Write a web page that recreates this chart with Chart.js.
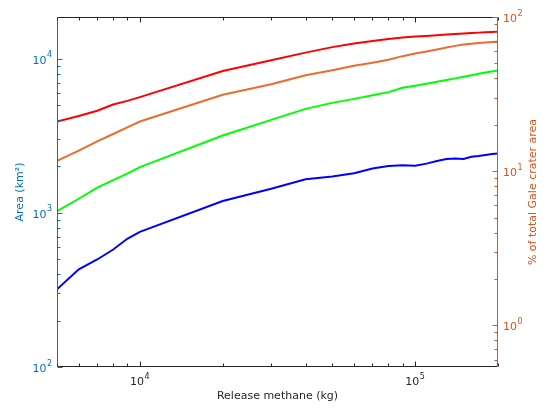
<!DOCTYPE html>
<html>
<head>
<meta charset="utf-8">
<script src="https://cdn.jsdelivr.net/npm/chart.js@4"></script>
<style>
  html, body { margin: 0; padding: 0; background: #fff; }
</style>
</head>
<body>
<canvas id="chart" width="549" height="408"></canvas>
<script>
// release mass (kg) and affected area (km^2) for four cases
const masses = [5000, 6000, 7000, 8000, 9000, 10000, 20000, 30000, 40000, 50000, 60000, 70000,
  80000, 90000, 100000, 110000, 120000, 130000, 140000, 150000, 160000, 170000, 180000, 190000, 200000];
const redArea = [3910, 4250, 4590, 5040, 5320, 5630, 8320, 9770, 10940, 11880, 12530, 13000,
  13400, 13700, 13900, 14050, 14200, 14330, 14450, 14560, 14660, 14750, 14830, 14880, 14930];
const orangeArea = [2175, 2530, 2910, 3245, 3580, 3910, 5830, 6820, 7810, 8415, 9000, 9410,
  9850, 10380, 10790, 11130, 11460, 11800, 12100, 12340, 12500, 12630, 12730, 12800, 12850];
const greenArea = [1027, 1234, 1459, 1629, 1795, 1978, 3175, 4006, 4722, 5167, 5485, 5780,
  6067, 6475, 6670, 6870, 7080, 7270, 7450, 7630, 7800, 7970, 8130, 8260, 8390];
const blueArea = [319, 430, 498, 578, 679, 752, 1194, 1433, 1652, 1721, 1808, 1940,
  2010, 2038, 2017, 2085, 2166, 2233, 2255, 2233, 2311, 2336, 2371, 2405, 2430];

const galeArea = 18627; // km^2, total area of Gale crater

const xTicks = [5000, 6000, 7000, 8000, 9000, 10000, 20000, 30000, 40000, 50000, 60000, 70000, 80000, 90000, 100000, 200000];
const yTicks = [100, 200, 300, 400, 500, 600, 700, 800, 900, 1000, 2000, 3000, 4000, 5000, 6000, 7000, 8000, 9000, 10000];
const y2Ticks = [0.6, 0.7, 0.8, 0.9, 1, 2, 3, 4, 5, 6, 7, 8, 9, 10, 20, 30, 40, 50, 60, 70, 80, 90, 100];
const xLabels = [4, 5];
const yLabels = [2, 3, 4];
const y2Labels = [0, 1, 2];
const rightTitle = '% of total Gale crater area';

const dark = '#262626';
const leftColor = '#0072BD';
const rightColor = '#D95319';
const fontFamily = '"DejaVu Sans", sans-serif';

const toPoints = arr => masses.map((m, i) => ({ x: m, y: arr[i] }));
const setTicks = vals => scale => { scale.ticks = vals.map(v => ({ value: v })); };

function drawPow(ctx, exp, x, y, align, color) {
  ctx.fillStyle = color;
  ctx.textAlign = 'left';
  ctx.textBaseline = 'alphabetic';
  ctx.font = '11px ' + fontFamily;
  const bw = ctx.measureText('10').width;
  ctx.font = '8px ' + fontFamily;
  const ew = ctx.measureText(String(exp)).width;
  const total = bw + ew + 0.5;
  const x0 = align === 'center' ? x - total / 2 : align === 'right' ? x - total : x;
  ctx.font = '11px ' + fontFamily;
  ctx.fillText('10', x0, y);
  ctx.font = '8px ' + fontFamily;
  ctx.fillText(String(exp), x0 + bw + 0.5, y - 6.5);
}

const isDecade = v => Math.abs(Math.log10(v) - Math.round(Math.log10(v))) < 1e-9;

const axisDecor = {
  id: 'axisDecor',
  afterDraw(chart) {
    const { ctx, chartArea: a, scales } = chart;
    ctx.save();
    ctx.lineWidth = 1;
    const seg = (x1, y1, x2, y2, c) => {
      ctx.strokeStyle = c;
      ctx.beginPath(); ctx.moveTo(x1, y1); ctx.lineTo(x2, y2); ctx.stroke();
    };
    const L = Math.round(a.left) + 0.5, R = Math.round(a.right) - 0.5;
    const T = Math.round(a.top) + 0.5, B = Math.round(a.bottom) - 0.5;

    // box
    seg(L, T, R, T, dark);
    seg(L, B, R, B, dark);
    seg(L, T, L, B, leftColor);
    seg(R, T, R, B, rightColor);

    // ticks point inward
    scales.x.ticks.forEach(t => {
      const px = Math.round(scales.x.getPixelForValue(t.value)) + 0.5;
      const len = isDecade(t.value) ? 5 : 3;
      seg(px, B, px, B - len, dark);
      seg(px, T, px, T + len, dark);
    });
    scales.y.ticks.forEach(t => {
      const py = Math.round(scales.y.getPixelForValue(t.value)) + 0.5;
      const len = isDecade(t.value) ? 5 : 3;
      seg(L, py, L + len, py, leftColor);
    });
    scales.y2.ticks.forEach(t => {
      const py = Math.round(scales.y2.getPixelForValue(t.value)) + 0.5;
      const len = isDecade(t.value) ? 5 : 3;
      seg(R, py, R - len, py, rightColor);
    });

    // tick labels
    xLabels.forEach(e => drawPow(ctx, e, scales.x.getPixelForValue(Math.pow(10, e)), a.bottom + 18, 'center', dark));
    yLabels.forEach(e => drawPow(ctx, e, a.left - 5, scales.y.getPixelForValue(Math.pow(10, e)) + 5, 'right', leftColor));
    y2Labels.forEach(e => drawPow(ctx, e, a.right + 5, scales.y2.getPixelForValue(Math.pow(10, e)) + 5, 'left', rightColor));

    // right title reads bottom to top, like the left one
    ctx.translate(a.right + 35, (a.top + a.bottom) / 2);
    ctx.rotate(-Math.PI / 2);
    ctx.fillStyle = rightColor;
    ctx.font = '11px ' + fontFamily;
    ctx.textAlign = 'center';
    ctx.textBaseline = 'middle';
    ctx.fillText(rightTitle, 0, 0);
    ctx.restore();
  }
};

const lineStyle = color => ({
  borderColor: color,
  backgroundColor: color,
  borderWidth: 2,
  pointRadius: 0,
  tension: 0,
  fill: false
});

new Chart(document.getElementById('chart'), {
  type: 'line',
  data: {
    datasets: [
      { label: 'red', data: toPoints(redArea), ...lineStyle('#FF0000') },
      { label: 'orange', data: toPoints(orangeArea), ...lineStyle('#EE6A2E') },
      { label: 'green', data: toPoints(greenArea), ...lineStyle('#00FF00') },
      { label: 'blue', data: toPoints(blueArea), ...lineStyle('#0000FF') }
    ]
  },
  options: {
    responsive: false,
    animation: false,
    layout: { padding: { top: 17, left: 0, right: 0, bottom: 0 } },
    plugins: {
      legend: { display: false },
      tooltip: { enabled: false }
    },
    scales: {
      x: {
        type: 'logarithmic',
        position: 'bottom',
        min: 5000,
        max: 200000,
        grid: { display: false },
        border: { display: false },
        ticks: { display: false },
        afterBuildTicks: setTicks(xTicks),
        afterFit: s => { s.height = 41; },
        title: {
          display: true,
          text: 'Release methane (kg)',
          color: dark,
          font: { family: fontFamily, size: 11 },
          padding: { top: 0, bottom: 5 }
        }
      },
      y: {
        type: 'logarithmic',
        position: 'left',
        min: 100,
        max: galeArea,
        grid: { display: false },
        border: { display: false },
        ticks: { display: false },
        afterBuildTicks: setTicks(yTicks),
        afterFit: s => { s.width = 57; },
        title: {
          display: true,
          text: 'Area (km²)',
          color: leftColor,
          font: { family: fontFamily, size: 11 },
          padding: { top: 14, bottom: 0 }
        }
      },
      y2: {
        type: 'logarithmic',
        position: 'right',
        min: 100 * 100 / galeArea,
        max: 100,
        grid: { display: false },
        border: { display: false },
        ticks: { display: false },
        afterBuildTicks: setTicks(y2Ticks),
        afterFit: s => { s.width = 51; }
      }
    }
  },
  plugins: [axisDecor]
});
</script>
</body>
</html>
